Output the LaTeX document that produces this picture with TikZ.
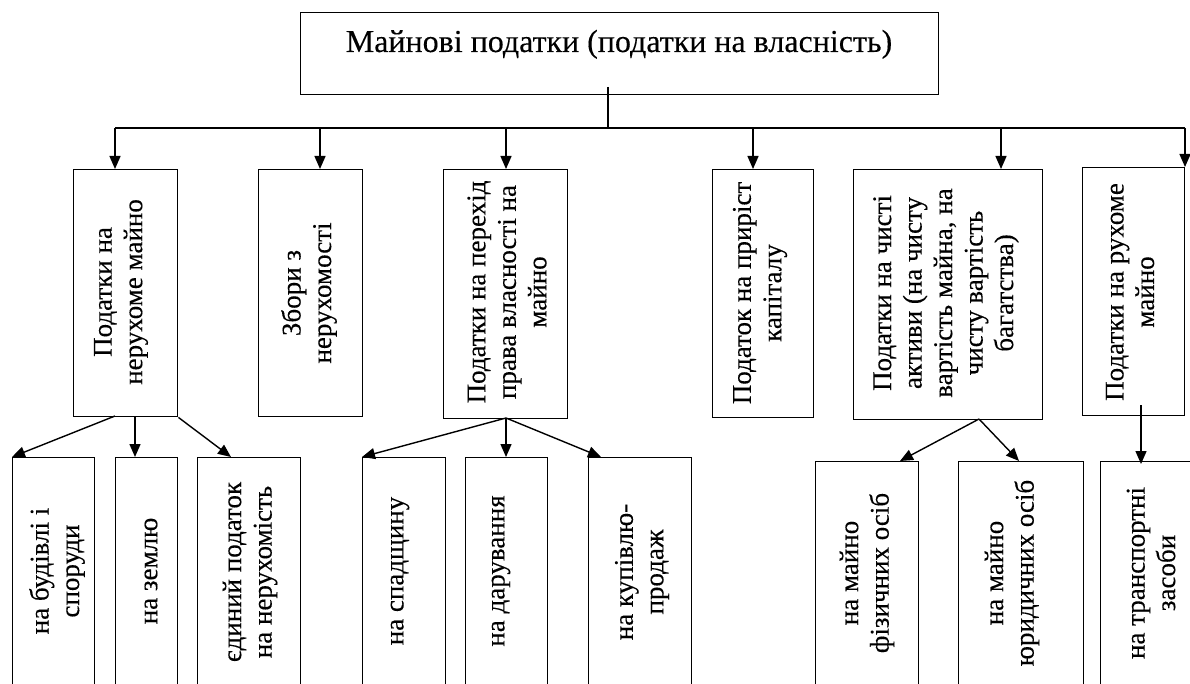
\documentclass[tikz,border=0pt]{standalone}
\usepackage{fontspec}
\setmainfont{Liberation Serif}[FakeBold=0.25]
\usetikzlibrary{arrows.meta}
\begin{document}
\begin{tikzpicture}[x=1pt,y=-1pt,
  box/.style={draw, line width=1.4pt, inner sep=0pt, anchor=north west},
  lbl/.style={rotate=90, align=center, inner sep=0pt, font=\fontsize{27}{30.5}\selectfont},
  ln/.style={line width=1.4pt},
  arr/.style={line width=1.4pt, -{Triangle[length=13pt,width=11pt]}}]
\clip (0,0) rectangle (1190,684);
\fill[white] (0,0) rectangle (1190,684);
% top box
\node[box, minimum width=638pt, minimum height=82pt] (top) at (300,12) {};
\node[anchor=base, inner sep=0pt, font=\fontsize{32}{36}\selectfont] (ttl) at (619,52) {Майнові податки (податки на власність)};
% middle boxes
\node[box, minimum width=104pt, minimum height=247pt] (m1) at (73,169) {};
\node[box, minimum width=104pt, minimum height=247pt] (m2) at (258,169) {};
\node[box, minimum width=124pt, minimum height=249pt] (m3) at (443,169) {};
\node[box, minimum width=101pt, minimum height=248pt] (m4) at (712,169) {};
\node[box, minimum width=189pt, minimum height=250pt] (m5) at (853,169) {};
\node[box, minimum width=102pt, minimum height=248pt] (m6) at (1082,167) {};
\node[lbl] (tm1) at (121,292) {Податки на\\нерухоме майно};
\node[lbl] (tm2) at (309,293) {Збори з\\нерухомості};
\node[lbl] (tm3) at (507,292) {Податки на перехід\\права власності на\\майно};
\node[lbl] (tm4) at (760,293) {Податок на приріст\\капіталу};
\node[lbl] (tm5) at (946,293) {Податки на чисті\\активи (на чисту\\вартість майна, на\\чисту вартість\\багатства)};
\node[lbl] (tm6) at (1130,292) {Податки на рухоме\\майно};
% bottom boxes
\node[box, minimum width=82pt, minimum height=229pt] (b1) at (12,457) {};
\node[box, minimum width=62pt, minimum height=229pt] (b2) at (115,457) {};
\node[box, minimum width=103pt, minimum height=229pt] (b3) at (197,457) {};
\node[box, minimum width=83pt, minimum height=229pt] (b4) at (362,457) {};
\node[box, minimum width=82pt, minimum height=229pt] (b5) at (465,457) {};
\node[box, minimum width=103pt, minimum height=229pt] (b6) at (588,457) {};
\node[box, minimum width=103pt, minimum height=225pt] (b7) at (815,461) {};
\node[box, minimum width=125pt, minimum height=225pt] (b8) at (958,461) {};
\node[box, minimum width=105pt, minimum height=225pt] (b9) at (1100,461) {};
\node[lbl] (tb1) at (57,571) {на будівлі і\\споруди};
\node[lbl] (tb2) at (151,571) {на землю};
\node[lbl] (tb3) at (250,572) {єдиний податок\\на нерухомість};
\node[lbl] (tb4) at (400,571) {на спадщину};
\node[lbl] (tb5) at (501,571) {на дарування};
\node[lbl] (tb6) at (642,572) {на купівлю-\\продаж};
\node[lbl] (tb7) at (867,573) {на майно\\фізичних осіб};
\node[lbl] (tb8) at (1012,573) {на майно\\юридичних осіб};
\node[lbl] (tb9) at (1151,573) {на транспортні\\засоби};
% top connectors
\coordinate (s0) at (608,87);
\coordinate (s1) at (608,128);
\coordinate (busL) at (115,128);
\coordinate (busR) at (1185,128);
\coordinate (k2) at (320,128);
\coordinate (k3) at (506,128);
\coordinate (k4) at (753,128);
\coordinate (k5) at (1001,128);
\draw[ln] (s0) -- (s1);
\draw[ln] (busL) -- (busR);
\draw[arr] (busL) -- (busL |- m1.north);
\draw[arr] (k2) -- (k2 |- m2.north);
\draw[arr] (k3) -- (k3 |- m3.north);
\draw[arr] (k4) -- (k4 |- m4.north);
\draw[arr] (k5) -- (k5 |- m5.north);
\draw[arr] (busR) -- (busR |- m6.north);
% lower connectors
\coordinate (p1) at (115,416);
\coordinate (p2) at (135,416);
\draw[arr] (p1) -- (b1.north west);
\draw[arr] (p2) -- (p2 |- b2.north);
\draw[arr] (m1.south east) -- ([xshift=34pt]b3.north west);
\coordinate (p3) at (506,418);
\draw[arr] (p3) -- (b4.north west);
\draw[arr] (p3) -- (p3 |- b5.north);
\draw[arr] (p3) -- ([xshift=13pt]b6.north west);
\coordinate (p5) at (979,419);
\draw[arr] (p5) -- ([xshift=85pt]b7.north west);
\draw[arr] (p5) -- ([xshift=61pt]b8.north west);
\coordinate (p6) at (1141,405);
\draw[arr] (p6) -- ([yshift=-3pt]p6 |- b9.north);
\end{tikzpicture}
\end{document}
